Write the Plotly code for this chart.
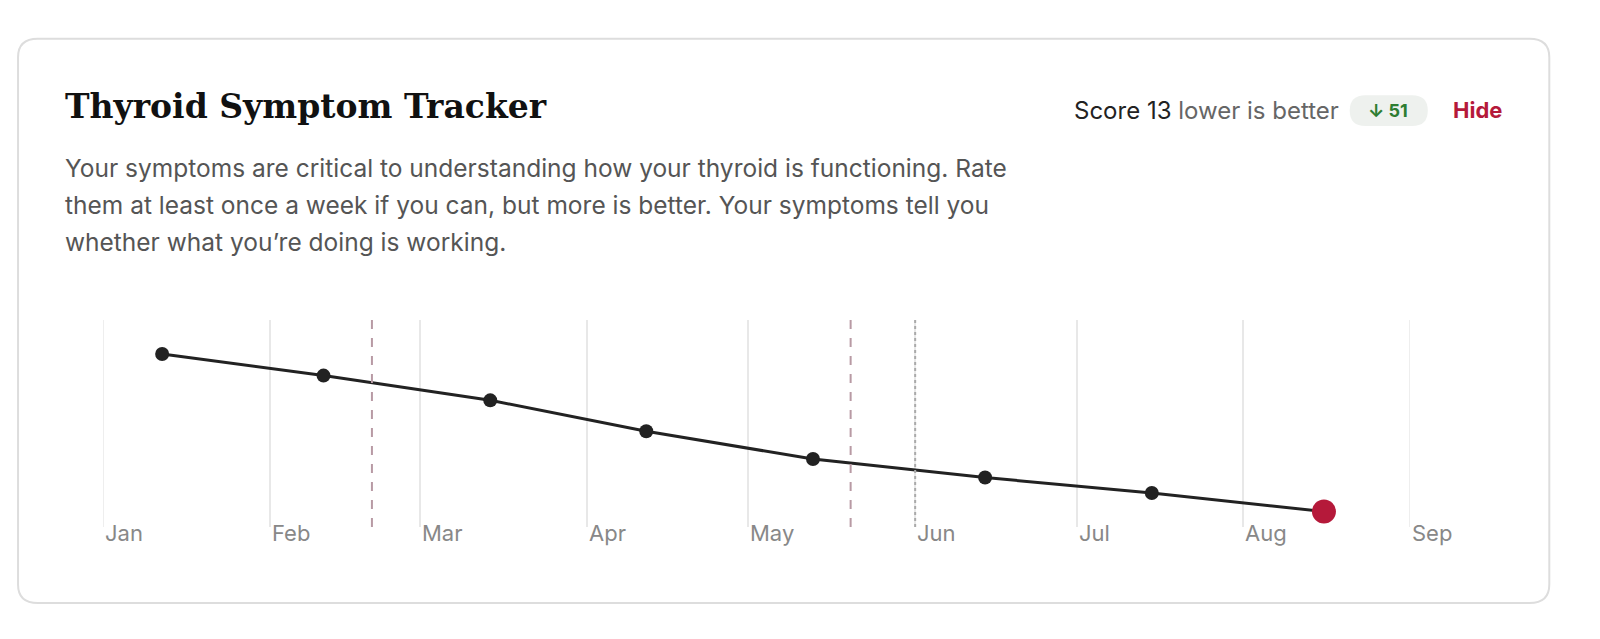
import plotly.graph_objects as go

# data
dates = ["2023-01-12", "2023-02-11", "2023-03-14", "2023-04-12",
         "2023-05-13", "2023-06-14", "2023-07-15", "2023-08-16"]
scores = [64, 57, 49, 39, 30, 24, 19, 13]
month_ticks = ["2023-01-01", "2023-02-01", "2023-03-01", "2023-04-01", "2023-05-01",
               "2023-06-01", "2023-07-01", "2023-08-01", "2023-09-01"]
month_labels = ["Jan", "Feb", "Mar", "Apr", "May", "Jun", "Jul", "Aug", "Sep"]
dashed_events = ["2023-02-20", "2023-05-20"]
dotted_events = ["2023-06-01"]
desc_lines = [
    "Your symptoms are critical to understanding how your thyroid is functioning. Rate",
    "them at least once a week if you can, but more is better. Your symptoms tell you",
    "whether what you\u2019re doing is working.",
]

W, H = 1600, 639
L, R, T, B = 95, 1418, 312, 535


def px(x):
    return (x - L) / (R - L)


def py(y):
    return (B - y) / (B - T)


fig = go.Figure()
fig.add_trace(go.Scatter(
    x=dates, y=scores, mode="lines+markers",
    line=dict(color="#222222", width=3),
    marker=dict(size=14, color=["#222222"] * (len(dates) - 1) + ["#b5193a"]),
    hoverinfo="x+y", showlegend=False,
))
fig.add_trace(go.Scatter(
    x=dates[-1:], y=scores[-1:], mode="markers",
    marker=dict(size=24, color="#b5193a"), showlegend=False,
))

shapes = []
for d in (month_ticks[0], month_ticks[-1]):
    shapes.append(dict(type="line", xref="x", yref="paper", x0=d, x1=d, y0=0, y1=1,
                       line=dict(color="#e8e8e8", width=1.5), layer="below"))
for d in dashed_events:
    shapes.append(dict(type="line", xref="x", yref="paper", x0=d, x1=d, y0=0, y1=1,
                       line=dict(color="#b89aa4", width=2, dash="dash")))
for d in dotted_events:
    shapes.append(dict(type="line", xref="x", yref="paper", x0=d, x1=d, y0=0, y1=1,
                       line=dict(color="#aaaaaa", width=2, dash="dot")))

# rounded card border
x0, x1, y0, y1, r = 9, 1559, 9, 617, 20
path = (f"M {px(x0 + r)} {py(y0)} L {px(x1 - r)} {py(y0)} Q {px(x1)} {py(y0)} {px(x1)} {py(y0 + r)} "
        f"L {px(x1)} {py(y1 - r)} Q {px(x1)} {py(y1)} {px(x1 - r)} {py(y1)} "
        f"L {px(x0 + r)} {py(y1)} Q {px(x0)} {py(y1)} {px(x0)} {py(y1 - r)} "
        f"L {px(x0)} {py(y0 + r)} Q {px(x0)} {py(y0)} {px(x0 + r)} {py(y0)} Z")
shapes.append(dict(type="path", xref="paper", yref="paper", path=path,
                   line=dict(color="#dddddd", width=2), layer="below"))

# badge pill
bx0, bx1, by0, by1, br = 1357, 1436, 70, 103, 16
bpath = (f"M {px(bx0 + br)} {py(by0)} L {px(bx1 - br)} {py(by0)} Q {px(bx1)} {py(by0)} {px(bx1)} {py((by0 + by1) / 2)} "
         f"Q {px(bx1)} {py(by1)} {px(bx1 - br)} {py(by1)} L {px(bx0 + br)} {py(by1)} "
         f"Q {px(bx0)} {py(by1)} {px(bx0)} {py((by0 + by1) / 2)} Q {px(bx0)} {py(by0)} {px(bx0 + br)} {py(by0)} Z")
shapes.append(dict(type="path", xref="paper", yref="paper", path=bpath,
                   fillcolor="#eef1ee", line=dict(width=0), layer="below"))

ann = []
for m, lab in zip(month_ticks, month_labels):
    ann.append(dict(x=m, xref="x", y=py(558), yref="paper", text=lab, showarrow=False,
                    xanchor="left", xshift=0, font=dict(family="Inter", size=22, color="#888888")))
ann.append(dict(x=px(55), y=py(82), xref="paper", yref="paper", xanchor="left", yanchor="middle",
                text="<b>Thyroid Symptom Tracker</b>", showarrow=False,
                font=dict(family="DejaVu Serif", size=33, color="#111111")))
for i, line in enumerate(desc_lines):
    ann.append(dict(x=px(55), y=py(148 + 40 * i), xref="paper", yref="paper", xanchor="left",
                    yanchor="middle", text=line, showarrow=False,
                    font=dict(family="Inter", size=24.5, color="#555555")))
ann.append(dict(x=px(1348), y=py(86), xref="paper", yref="paper", xanchor="right", yanchor="middle",
                text="<span style='color:#222'>Score 13</span> lower is better", showarrow=False,
                font=dict(family="Inter", size=24, color="#666666")))
ann.append(dict(x=px(1396), y=py(86), xref="paper", yref="paper", xanchor="center", yanchor="middle",
                text="<b>\u2193 51</b>", showarrow=False,
                font=dict(family="Inter", size=18, color="#2e7d32")))
ann.append(dict(x=px(1513), y=py(86), xref="paper", yref="paper", xanchor="right", yanchor="middle",
                text="<b>Hide</b>", showarrow=False,
                font=dict(family="Inter", size=22, color="#b5193a")))

fig.update_layout(
    autosize=True,
    margin=dict(l=L, r=W - R, t=T, b=H - B),
    paper_bgcolor="white", plot_bgcolor="white",
    shapes=shapes, annotations=ann,
    xaxis=dict(range=[month_ticks[0], month_ticks[-1]], tickvals=month_ticks, showticklabels=False,
               showgrid=True, gridcolor="#e8e8e8", gridwidth=1.5, zeroline=False, showline=False),
    yaxis=dict(range=[8, 75], visible=False),
)

fig.write_html("out.html", default_width="100%", default_height="100%")
